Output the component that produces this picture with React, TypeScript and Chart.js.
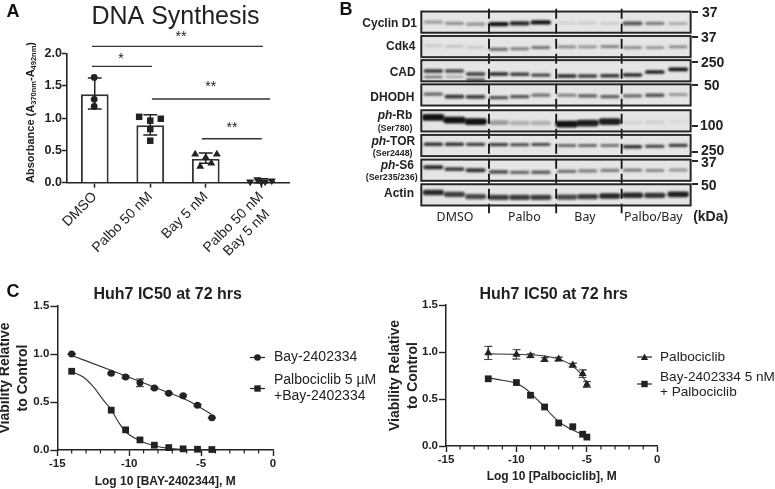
import React, { useEffect, useRef } from "react";
import { Chart, registerables } from "chart.js";

Chart.register(...registerables);

/* ---------- Panel A data ---------- */
const dnaLabels = ["DMSO", "Palbo 50 nM", "Bay 5 nM", ["Palbo 50 nM", "Bay 5 nM  "]];
const dnaMeans = [1.37, 0.89, 0.37, 0.03];
const dnaLow = [1.14, 0.74, 0.3, 0.0];
const dnaHigh = [1.62, 1.05, 0.46, 0.06];
const dmsoPoints = [{ x: 0.99, y: 1.63 }, { x: 0.99, y: 1.29 }, { x: 0.99, y: 1.18 }];
const palboPoints = [{ x: 1.8, y: 1.02 }, { x: 2.19, y: 0.99 }, { x: 2.0, y: 0.96 }, { x: 2.0, y: 0.83 }, { x: 2.0, y: 0.65 }];
const bayPoints = [{ x: 2.81, y: 0.44 }, { x: 3.2, y: 0.44 }, { x: 3.0, y: 0.39 }, { x: 3.1, y: 0.3 }, { x: 2.9, y: 0.25 }];
const comboPoints = [{ x: 3.8, y: 0.015 }, { x: 3.93, y: 0.05 }, { x: 4.0, y: 0.01 }, { x: 4.07, y: 0.015 }, { x: 4.19, y: 0.03 }];
const sigFrom = [0.95, 0.95, 2.03, 2.93];
const sigTo = [4.03, 2.03, 4.16, 4.01];
const sigLevel = [2.11, 1.8, 1.295, 0.68];

/* ---------- Panel B data ---------- */
const lanes = [1, 1.95, 2.9, 3.93, 4.88, 5.83, 7.0, 7.93, 8.93, 9.95, 10.95, 12.0];
const laneDividers = [3.5, 6.52, 9.46];
const blotRowCenters = [0, 0.99, 1.97, 2.95, 4, 5, 6, 7];
const cyclinD1 = [0.35, 0.4, 0.4, 1, 0.9, 1, 0.1, 0.12, 0.12, 0.7, 0.5, 0.3];
const cdk4 = [0.15, 0.2, 0.15, 0.6, 0.5, 0.55, 0.45, 0.4, 0.5, 0.45, 0.4, 0.45];
const cad = [0.85, 0.75, 0.8, 0.9, 0.8, 0.75, 0.9, 0.8, 0.85, 0.9, 0.95, 1];
const cadLowerBand = [0.55, 0.3, 0.75, 0, 0, 0, 0, 0, 0, 0, 0, 0];
const dhodh = [0.6, 0.85, 0.8, 0.7, 0.7, 0.55, 0.5, 0.65, 0.65, 0.6, 0.7, 0.4];
const phRb = [1, 1, 1, 0.35, 0.25, 0.25, 1, 0.95, 0.95, 0.08, 0.1, 0.05];
const phTor = [0.85, 0.85, 0.8, 0.8, 0.75, 0.75, 0.6, 0.6, 0.55, 0.85, 0.8, 0.8];
const phS6 = [0.9, 0.8, 0.85, 0.7, 0.6, 0.65, 0.55, 0.5, 0.5, 0.5, 0.45, 0.4];
const actin = [0.9, 0.8, 0.75, 0.8, 0.8, 0.8, 0.75, 0.8, 0.9, 0.9, 0.85, 0.95];
const shiftCyclinD1 = [0, 5, 8, 8, 5, 1, 3, 3, 5, 5, 5, 6];
const shiftCdk4 = [-4, -1, 3, 11, 9, 4, 1, 1, 0, 4, 4, 1];
const shiftCad = [1, 1, 13, 13, 14, 18, 21, 21, 20, 17, 5, -6];
const shiftDhodh = [-3, 7, 8, 11, 7, 1, 1, 4, 7, 4, 1, -1];
const shiftPhRb = [-14, -3, 3, 7, 9, 9, 13, 9, 3, 7, 6, 3];
const shiftPhTor = [-5, -5, -5, -4, -3, -4, 0, 0, 0, 5, 3, -1];
const shiftPhS6 = [-12, -4, 0, 7, 9, 8, 5, 3, 1, 0, 1, -1];
const shiftActin = [-10, -2, 7, 10, 10, 10, 9, 7, 5, 2, 2, -2];

/* ---------- Panel C data ---------- */
const bayDoses = [-14, -11.25, -10.25, -9.25, -8.25, -7.25, -6.25, -5.25, -4.25];
const bayViability = [1.0, 0.8, 0.76, 0.7, 0.645, 0.59, 0.565, 0.465, 0.335];
const bayError = [0.005, 0.01, 0.01, 0.04, 0.01, 0.005, 0.01, 0.01, 0.005];
const bayFitX = [-14, -11, -8, -6, -4.3];
const bayFitY = [0.985, 0.815, 0.64, 0.52, 0.375];
const comboViability = [0.82, 0.415, 0.21, 0.105, 0.05, 0.025, 0.012, 0.008, 0.005];
const comboFitX = [-14, -13.2, -12.5, -11.8, -11.25, -10.7, -10.25, -9.25, -8.25, -7.25, -6.25, -4.25];
const comboFitY = [0.816, 0.76, 0.66, 0.52, 0.42, 0.28, 0.19, 0.097, 0.045, 0.017, 0.007, 0.0];

const palboDoses = [-12, -10, -9, -8, -7, -6, -5.3, -5];
const palboViability = [0.99, 0.975, 0.96, 0.92, 0.925, 0.86, 0.77, 0.655];
const palboError = [0.07, 0.05, 0.02, 0.02, 0.02, 0.02, 0.04, 0.03];
const palboFitX = [-12, -10, -8.5, -7.5, -7, -6.5, -6, -5.5, -5];
const palboFitY = [0.98, 0.975, 0.965, 0.945, 0.925, 0.895, 0.85, 0.78, 0.67];
const bayPalboViability = [0.715, 0.675, 0.54, 0.415, 0.245, 0.205, 0.125, 0.095];
const bayPalboFitX = [-12, -11, -10, -9.5, -9, -8.5, -8, -7.5, -7, -6.5, -6, -5.5, -5];
const bayPalboFitY = [0.725, 0.7, 0.665, 0.625, 0.565, 0.49, 0.415, 0.33, 0.26, 0.21, 0.17, 0.135, 0.11];

/* ---------- shared helpers ---------- */
const SANS = '"Liberation Sans", Arial, sans-serif';
const INK = "#222222";
const bold = (s: number) => `bold ${s}px ${SANS}`;
const pts = (xs: number[], ys: number[]) => xs.map((x, i) => ({ x, y: ys[i] }));

type Run = { t: string; font: string; dy?: number };
type Item = {
  text?: string; runs?: Run[]; x: number; y: number; font?: string;
  align?: CanvasTextAlign; rotate?: number; color?: string;
};
type Box = { x: number; y: number; w: number; h: number };

function drawItem(ctx: CanvasRenderingContext2D, it: Item, box: Box) {
  ctx.save();
  ctx.translate(it.x - box.x, it.y - box.y);
  if (it.rotate) ctx.rotate(it.rotate);
  ctx.fillStyle = it.color || INK;
  ctx.textBaseline = "middle";
  if (it.runs) {
    let total = 0;
    for (const r of it.runs) { ctx.font = r.font; total += ctx.measureText(r.t).width; }
    let cx = it.align === "right" ? -total : it.align === "left" ? 0 : -total / 2;
    ctx.textAlign = "left";
    for (const r of it.runs) {
      ctx.font = r.font;
      ctx.fillText(r.t, cx, r.dy || 0);
      cx += ctx.measureText(r.t).width;
    }
  } else {
    ctx.font = it.font || bold(12);
    ctx.textAlign = it.align || "center";
    ctx.fillText(it.text || "", 0, 0);
  }
  ctx.restore();
}

const textLayer = (box: Box, items: Item[]) => ({
  id: "textLayer",
  afterDraw(chart: any) { items.forEach((it) => drawItem(chart.ctx, it, box)); },
});

const softBands = {
  id: "softBands",
  beforeDatasetDraw(chart: any, args: any) {
    const b = chart.data.datasets[args.index].blurPx;
    if (b) { chart.ctx.save(); chart.ctx.filter = `blur(${b}px)`; }
  },
  afterDatasetDraw(chart: any, args: any) {
    if (chart.data.datasets[args.index].blurPx) chart.ctx.restore();
  },
};

const plotPadding = (box: Box, plot: { left: number; right: number; top: number; bottom: number }) => ({
  padding: { top: plot.top - box.y, right: box.x + box.w - plot.right, left: 0, bottom: 0 },
});

function errorPath(x: number, lo: number, hi: number, cap: number) {
  return [
    { x: x - cap, y: hi }, { x: x + cap, y: hi }, { x, y: hi },
    { x, y: lo }, { x: x - cap, y: lo }, { x: x + cap, y: lo },
  ];
}

function Panel({ box, build }: { box: Box; build: (b: Box) => any }) {
  const ref = useRef<HTMLCanvasElement | null>(null);
  useEffect(() => {
    const chart = new Chart(ref.current as HTMLCanvasElement, build(box));
    return () => chart.destroy();
  }, []);
  return (
    <canvas
      ref={ref}
      width={box.w}
      height={box.h}
      style={{ position: "absolute", left: box.x, top: box.y, width: box.w, height: box.h }}
    />
  );
}

/* ---------- Panel A ---------- */
function buildDna(box: Box) {
  const plot = { left: 67, right: 289, top: 53.5, bottom: 182.7 };
  const markers = (data: any[], pointStyle: string, extra: any = {}) => ({
    type: "scatter", data, xAxisID: "xj", pointStyle, pointRadius: pointStyle === "circle" ? 3.4 : 4.6,
    backgroundColor: INK, borderColor: INK, borderWidth: 0, order: 1, clip: false, ...extra,
  });
  const link = (data: any[], width: number, color = INK) => ({
    type: "line", data, xAxisID: "xj", borderColor: color, borderWidth: width, pointRadius: 0,
    tension: 0, clip: false, order: 2,
  });
  const items: Item[] = [
    { text: "A", x: 13, y: 12, font: bold(18), color: "#111" },
    { text: "DNA Synthesis", x: 175.5, y: 17, font: `25px ${SANS}` },
    { text: "**", x: 181, y: 37, font: `14px ${SANS}` },
    { text: "*", x: 121, y: 59, font: `14px ${SANS}` },
    { text: "**", x: 210.7, y: 87, font: `14px ${SANS}` },
    { text: "**", x: 232, y: 128, font: `14px ${SANS}` },
    {
      x: 30.7, y: 112.5, rotate: -Math.PI / 2,
      runs: [
        { t: "Absorbance (A", font: bold(11) },
        { t: "370nm", font: bold(7.5), dy: 3 },
        { t: "-A", font: bold(11) },
        { t: "492nm", font: bold(7.5), dy: 3 },
        { t: ")", font: bold(11) },
      ],
    },
  ];
  return {
    type: "bar",
    data: {
      labels: dnaLabels,
      datasets: [
        {
          type: "bar", data: dnaMeans, backgroundColor: "#ffffff", borderColor: "#333333", borderWidth: 2,
          barPercentage: 0.5, categoryPercentage: 1, grouped: false, order: 5, xAxisID: "x",
        },
        markers(dmsoPoints, "circle"),
        markers(palboPoints, "rect"),
        markers(bayPoints, "triangle"),
        markers(comboPoints, "triangle", { rotation: 180 }),
        ...dnaMeans.map((_, i) => link(errorPath(i + 1, dnaLow[i], dnaHigh[i], 0.125), 1.5)),
        ...sigLevel.map((lvl, i) => link([{ x: sigFrom[i], y: lvl }, { x: sigTo[i], y: lvl }], 1.4, "#333333")),
      ],
    },
    plugins: [textLayer(box, items)],
    options: {
      responsive: false, animation: false, devicePixelRatio: 1,
      layout: plotPadding(box, plot),
      plugins: { legend: { display: false }, tooltip: { enabled: false } },
      scales: {
        x: {
          type: "category", offset: true,
          afterFit: (s: any) => { s.height = box.y + box.h - plot.bottom; },
          grid: { drawOnChartArea: false, tickLength: 5, tickColor: INK, tickWidth: 1.5, offset: false },
          border: { color: INK, width: 1.6 },
          ticks: { minRotation: 45, maxRotation: 45, autoSkip: false, padding: 1, color: INK, font: { family: SANS, size: 14 } },
        },
        xj: { type: "linear", display: false, min: 0.5, max: 4.5, offset: false },
        y: {
          min: 0, max: 2,
          afterFit: (s: any) => { s.width = plot.left - box.x; },
          grid: { drawOnChartArea: false, tickLength: 5, tickColor: INK, tickWidth: 1.5 },
          border: { color: INK, width: 1.6 },
          ticks: { stepSize: 0.5, padding: 0, color: INK, callback: (v: number) => v.toFixed(1), font: { family: SANS, size: 12.5, weight: "bold" } },
        },
      },
    },
  };
}

/* ---------- Panel B ---------- */
const blotRows = [
  { band: cyclinD1, shift: shiftCyclinD1, thick: 4.2 },
  { band: cdk4, shift: shiftCdk4, thick: 3.6 },
  { band: cad, shift: shiftCad, thick: 3.6 },
  { band: dhodh, shift: shiftDhodh, thick: 3.8 },
  { band: phRb, shift: shiftPhRb, thick: 6.5 },
  { band: phTor, shift: shiftPhTor, thick: 3.4 },
  { band: phS6, shift: shiftPhS6, thick: 4 },
  { band: actin, shift: shiftActin, thick: 5.5 },
];

function buildBlot(box: Box) {
  const plot = { left: 87.2, right: 354.3, top: 9.8, bottom: 207.2 };
  const BG = 229;
  const grey = (d: number) => {
    const g = Math.round(BG - (BG - 18) * d);
    return `rgb(${g},${g},${g})`;
  };
  const halfLane = 0.36;
  const bandSet = (row: number, lane: number, shift: number, d: number, thick: number) => ({
    type: "line",
    data: [
      { x: lanes[lane] - halfLane, y: blotRowCenters[row] + shift / 100 },
      { x: lanes[lane] + halfLane, y: blotRowCenters[row] + shift / 100 },
    ],
    borderColor: grey(d), borderWidth: thick * (0.55 + 0.5 * d), borderCapStyle: "round", pointRadius: 0, blurPx: 0.9,
  });
  const bands: any[] = [];
  blotRows.forEach((r, ri) => {
    r.band.forEach((d, li) => bands.push(bandSet(ri, li, r.shift[li], d, r.thick)));
  });
  cadLowerBand.forEach((d, li) => {
    if (d > 0) bands.push(bandSet(2, li, shiftCad[li] + 24, d, 3));
  });
  const dividers = laneDividers.map((x) => ({
    type: "line",
    data: [{ x, y: -0.54 }, { x, y: 7.75 }],
    borderColor: "#111", borderWidth: 1.8, borderDash: [10, 5], pointRadius: 0, clip: false,
  }));

  const kdaMarks = [
    { label: "37", tick: 12, y: 13, x: 702 },
    { label: "37", tick: 37, y: 38.5, x: 701 },
    { label: "250", tick: 62, y: 63, x: 701 },
    { label: "50", tick: 85, y: 86, x: 704 },
    { label: "100", tick: 126, y: 126, x: 700 },
    { label: "250", tick: 152, y: 151, x: 701 },
    { label: "37", tick: 161, y: 163.5, x: 701 },
    { label: "50", tick: 184, y: 186, x: 701 },
  ];

  const frames = {
    id: "blotFrames",
    beforeDatasetsDraw(chart: any) {
      const { ctx, scales } = chart;
      ctx.save();
      ctx.fillStyle = `rgb(${BG},${BG},${BG})`;
      blotRowCenters.forEach((c) => {
        const l = scales.x.getPixelForValue(0.46), r = scales.x.getPixelForValue(12.56);
        const t = scales.y.getPixelForValue(c - 0.43), b = scales.y.getPixelForValue(c + 0.43);
        ctx.fillRect(l, t, r - l, b - t);
      });
      ctx.restore();
    },
    afterDatasetsDraw(chart: any) {
      const { ctx, scales } = chart;
      ctx.save();
      ctx.strokeStyle = "#262626";
      ctx.lineWidth = 2;
      blotRowCenters.forEach((c) => {
        const l = scales.x.getPixelForValue(0.46), r = scales.x.getPixelForValue(12.56);
        const t = scales.y.getPixelForValue(c - 0.43), b = scales.y.getPixelForValue(c + 0.43);
        ctx.strokeRect(l, t, r - l, b - t);
      });
      kdaMarks.forEach((m) => {
        ctx.beginPath();
        ctx.moveTo(692 - box.x, m.tick);
        ctx.lineTo(698 - box.x, m.tick);
        ctx.stroke();
      });
      ctx.restore();
    },
  };

  const cx = (z: number) => 335 + z / 3;
  const f = bold(12);
  const sub = bold(8.8);
  const items: Item[] = [
    { text: "B", x: 346, y: 10, font: bold(18), color: "#111" },
    { text: "Cyclin D1", x: cx(164), y: 23.3, font: f },
    { text: "Cdk4", x: cx(197), y: 46.7, font: f },
    { text: "CAD", x: cx(203), y: 72.3, font: f },
    { text: "DHODH", x: cx(172), y: 97.3, font: f },
    { x: cx(180), y: 115.7, runs: [{ t: "ph", font: `italic ${f}` }, { t: "-Rb", font: f }] },
    { text: "(Ser780)", x: cx(180), y: 128.3, font: sub },
    { x: cx(175), y: 141.3, runs: [{ t: "ph", font: `italic ${f}` }, { t: "-TOR", font: f }] },
    { text: "(Ser2448)", x: cx(173), y: 153.3, font: sub },
    { x: cx(187), y: 165.7, runs: [{ t: "ph", font: `italic ${f}` }, { t: "-S6", font: f }] },
    { text: "(Ser235/236)", x: cx(170), y: 177.7, font: sub },
    { text: "Actin", x: cx(192), y: 194, font: f },
    ...kdaMarks.map((m) => ({ text: m.label, x: m.x, y: m.y, font: bold(14), align: "left" as CanvasTextAlign })),
    { text: "DMSO", x: cx(360), y: 217, font: `12.4px "Noto Sans"` },
    { text: "Palbo", x: cx(568), y: 217, font: `12.4px "Noto Sans"` },
    { text: "Bay", x: cx(750), y: 217, font: `12.4px "Noto Sans"` },
    { text: "Palbo/Bay", x: cx(955), y: 217, font: `12.4px "Noto Sans"` },
    { text: "(kDa)", x: cx(1127), y: 217, font: bold(14) },
  ];
  return {
    type: "line",
    data: { datasets: [...dividers, ...bands] },
    plugins: [softBands, frames, textLayer(box, items)],
    options: {
      responsive: false, animation: false, devicePixelRatio: 1,
      layout: {
        padding: {
          top: plot.top - box.y, bottom: box.y + box.h - plot.bottom,
          left: plot.left, right: box.w - plot.right,
        },
      },
      plugins: { legend: { display: false }, tooltip: { enabled: false } },
      scales: {
        x: { type: "linear", display: false, min: 0.5, max: 12.5 },
        y: { type: "linear", display: false, min: -0.5, max: 7.5, reverse: true },
      },
    },
  };
}

/* ---------- Panel C ---------- */
type LegendRow = { style: string; x1: number; x2: number; y: number };
const minorTicks = [-14, -13, -12, -11, -9, -8, -7, -6, -4, -3, -2, -1];

function drawMark(ctx: CanvasRenderingContext2D, style: string, x: number, y: number, r: number) {
  ctx.beginPath();
  if (style === "circle") ctx.arc(x, y, r, 0, Math.PI * 2);
  else if (style === "rect") ctx.rect(x - r, y - r, 2 * r, 2 * r);
  else { ctx.moveTo(x, y - r * 1.05); ctx.lineTo(x + r * 1.1, y + r * 0.9); ctx.lineTo(x - r * 1.1, y + r * 0.9); ctx.closePath(); }
  ctx.fill();
}

function buildCurve(
  box: Box,
  plot: { left: number; right: number; top: number; bottom: number },
  xTitle: string,
  yTitlePad: number,
  xTitlePad: number,
  seriesA: { style: string; xs: number[]; ys: number[]; err: number[]; fitX: number[]; fitY: number[] },
  seriesB: { style: string; xs: number[]; ys: number[]; fitX: number[]; fitY: number[] },
  legend: LegendRow[],
  items: Item[],
) {
  const marks = (style: string, xs: number[], ys: number[]) => ({
    type: "scatter", data: pts(xs, ys), pointStyle: style, pointRadius: style === "circle" ? 3.5 : style === "rect" ? 4.8 : 4.6,
    backgroundColor: INK, borderColor: INK, borderWidth: 0, clip: false,
  });
  const fit = (xs: number[], ys: number[]) => ({
    type: "line", data: pts(xs, ys), borderColor: "#333", borderWidth: 1.1, pointRadius: 0,
    cubicInterpolationMode: "monotone", clip: false,
  });
  const errs = seriesA.xs.map((x, i) => ({
    type: "line", data: errorPath(x, seriesA.ys[i] - seriesA.err[i], seriesA.ys[i] + seriesA.err[i], 0.28),
    borderColor: "#444", borderWidth: 1, pointRadius: 0, clip: false,
  }));
  const minorAndLegend = {
    id: "minorAndLegend",
    afterDraw(chart: any) {
      const { ctx, scales } = chart;
      ctx.save();
      ctx.strokeStyle = INK;
      ctx.fillStyle = INK;
      ctx.lineWidth = 1.2;
      for (const v of minorTicks) {
        const px = scales.x.getPixelForValue(v);
        ctx.beginPath(); ctx.moveTo(px, plot.bottom - box.y); ctx.lineTo(px, plot.bottom - box.y + 3.5); ctx.stroke();
      }
      for (const l of legend) {
        ctx.beginPath(); ctx.moveTo(l.x1 - box.x, l.y - box.y); ctx.lineTo(l.x2 - box.x, l.y - box.y); ctx.stroke();
        drawMark(ctx, l.style, (l.x1 + l.x2) / 2 - box.x, l.y - box.y, l.style === "rect" ? 3.2 : 3.3);
      }
      ctx.restore();
    },
  };
  return {
    type: "scatter",
    data: {
      datasets: [
        marks(seriesA.style, seriesA.xs, seriesA.ys),
        marks(seriesB.style, seriesB.xs, seriesB.ys),
        ...errs,
        fit(seriesA.fitX, seriesA.fitY),
        fit(seriesB.fitX, seriesB.fitY),
      ],
    },
    plugins: [minorAndLegend, textLayer(box, items)],
    options: {
      responsive: false, animation: false, devicePixelRatio: 1,
      layout: plotPadding(box, plot),
      plugins: { legend: { display: false }, tooltip: { enabled: false } },
      scales: {
        x: {
          type: "linear", min: -15, max: 0,
          afterFit: (s: any) => { s.height = box.y + box.h - plot.bottom; },
          grid: { drawOnChartArea: false, tickLength: 6, tickColor: INK, tickWidth: 1.4 },
          border: { color: INK, width: 1.5 },
          ticks: { stepSize: 5, padding: 1, color: INK, font: { family: SANS, size: 11.5, weight: "bold" } },
          title: { display: true, text: xTitle, color: INK, font: { family: SANS, size: 12, weight: "bold" }, padding: { top: 0, bottom: xTitlePad } },
        },
        y: {
          min: 0, max: 1.5,
          afterFit: (s: any) => { s.width = plot.left - box.x; },
          grid: { drawOnChartArea: false, tickLength: 7, tickColor: INK, tickWidth: 1.4 },
          border: { color: INK, width: 1.5 },
          ticks: { stepSize: 0.5, padding: 1, color: INK, callback: (v: number) => v.toFixed(1), font: { family: SANS, size: 11.5, weight: "bold" } },
          title: {
            display: true, text: ["Viability Relative", "to Control"], color: INK,
            font: { family: SANS, size: 14, weight: "bold", lineHeight: 1.26 },
            padding: { top: yTitlePad, bottom: 0 },
          },
        },
      },
    },
  };
}

function buildLeftCurve(box: Box) {
  const L = `14px ${SANS}`;
  return buildCurve(
    box,
    { left: 57.3, right: 273, top: 306, bottom: 450 },
    "Log 10 [BAY-2402344], M",
    -3.8,
    0,
    { style: "circle", xs: bayDoses, ys: bayViability, err: bayError, fitX: bayFitX, fitY: bayFitY },
    { style: "rect", xs: bayDoses, ys: comboViability, fitX: comboFitX, fitY: comboFitY },
    [
      { style: "circle", x1: 250, x2: 265, y: 357.5 },
      { style: "rect", x1: 250, x2: 265, y: 388.5 },
    ],
    [
      { text: "C", x: 13, y: 292, font: bold(18), color: "#111" },
      { text: "Huh7 IC50 at 72 hrs", x: 167.7, y: 295, font: bold(16) },
      { text: "Bay-2402334", x: 274, y: 357.5, font: L, align: "left" },
      { text: "Palbociclib 5 µM", x: 274, y: 380, font: L, align: "left" },
      { text: "+Bay-2402334", x: 274, y: 395.7, font: L, align: "left" },
    ],
  );
}

function buildRightCurve(box: Box) {
  const L = `13.6px ${SANS}`;
  return buildCurve(
    box,
    { left: 446, right: 657.3, top: 305, bottom: 446 },
    "Log 10 [Palbociclib], M",
    1.5,
    5,
    { style: "triangle", xs: palboDoses, ys: palboViability, err: palboError, fitX: palboFitX, fitY: palboFitY },
    { style: "rect", xs: palboDoses, ys: bayPalboViability, fitX: bayPalboFitX, fitY: bayPalboFitY },
    [
      { style: "triangle", x1: 637, x2: 652, y: 357 },
      { style: "rect", x1: 637, x2: 652, y: 384 },
    ],
    [
      { text: "Huh7 IC50 at 72 hrs", x: 553.7, y: 295, font: bold(16) },
      { text: "Palbociclib", x: 660, y: 357, font: L, align: "left" },
      { text: "Bay-2402334 5 nM", x: 660, y: 377.7, font: L, align: "left" },
      { text: "+ Palbociclib", x: 660, y: 392, font: L, align: "left" },
    ],
  );
}

export default function App() {
  return (
    <div style={{ position: "absolute", left: 0, top: 0, width: 775, height: 489, overflow: "hidden", background: "#ffffff" }}>
      <Panel box={{ x: 0, y: 0, w: 335, h: 272 }} build={buildDna} />
      <Panel box={{ x: 335, y: 0, w: 440, h: 255 }} build={buildBlot} />
      <Panel box={{ x: 0, y: 272, w: 385, h: 217 }} build={buildLeftCurve} />
      <Panel box={{ x: 385, y: 272, w: 390, h: 217 }} build={buildRightCurve} />
    </div>
  );
}
